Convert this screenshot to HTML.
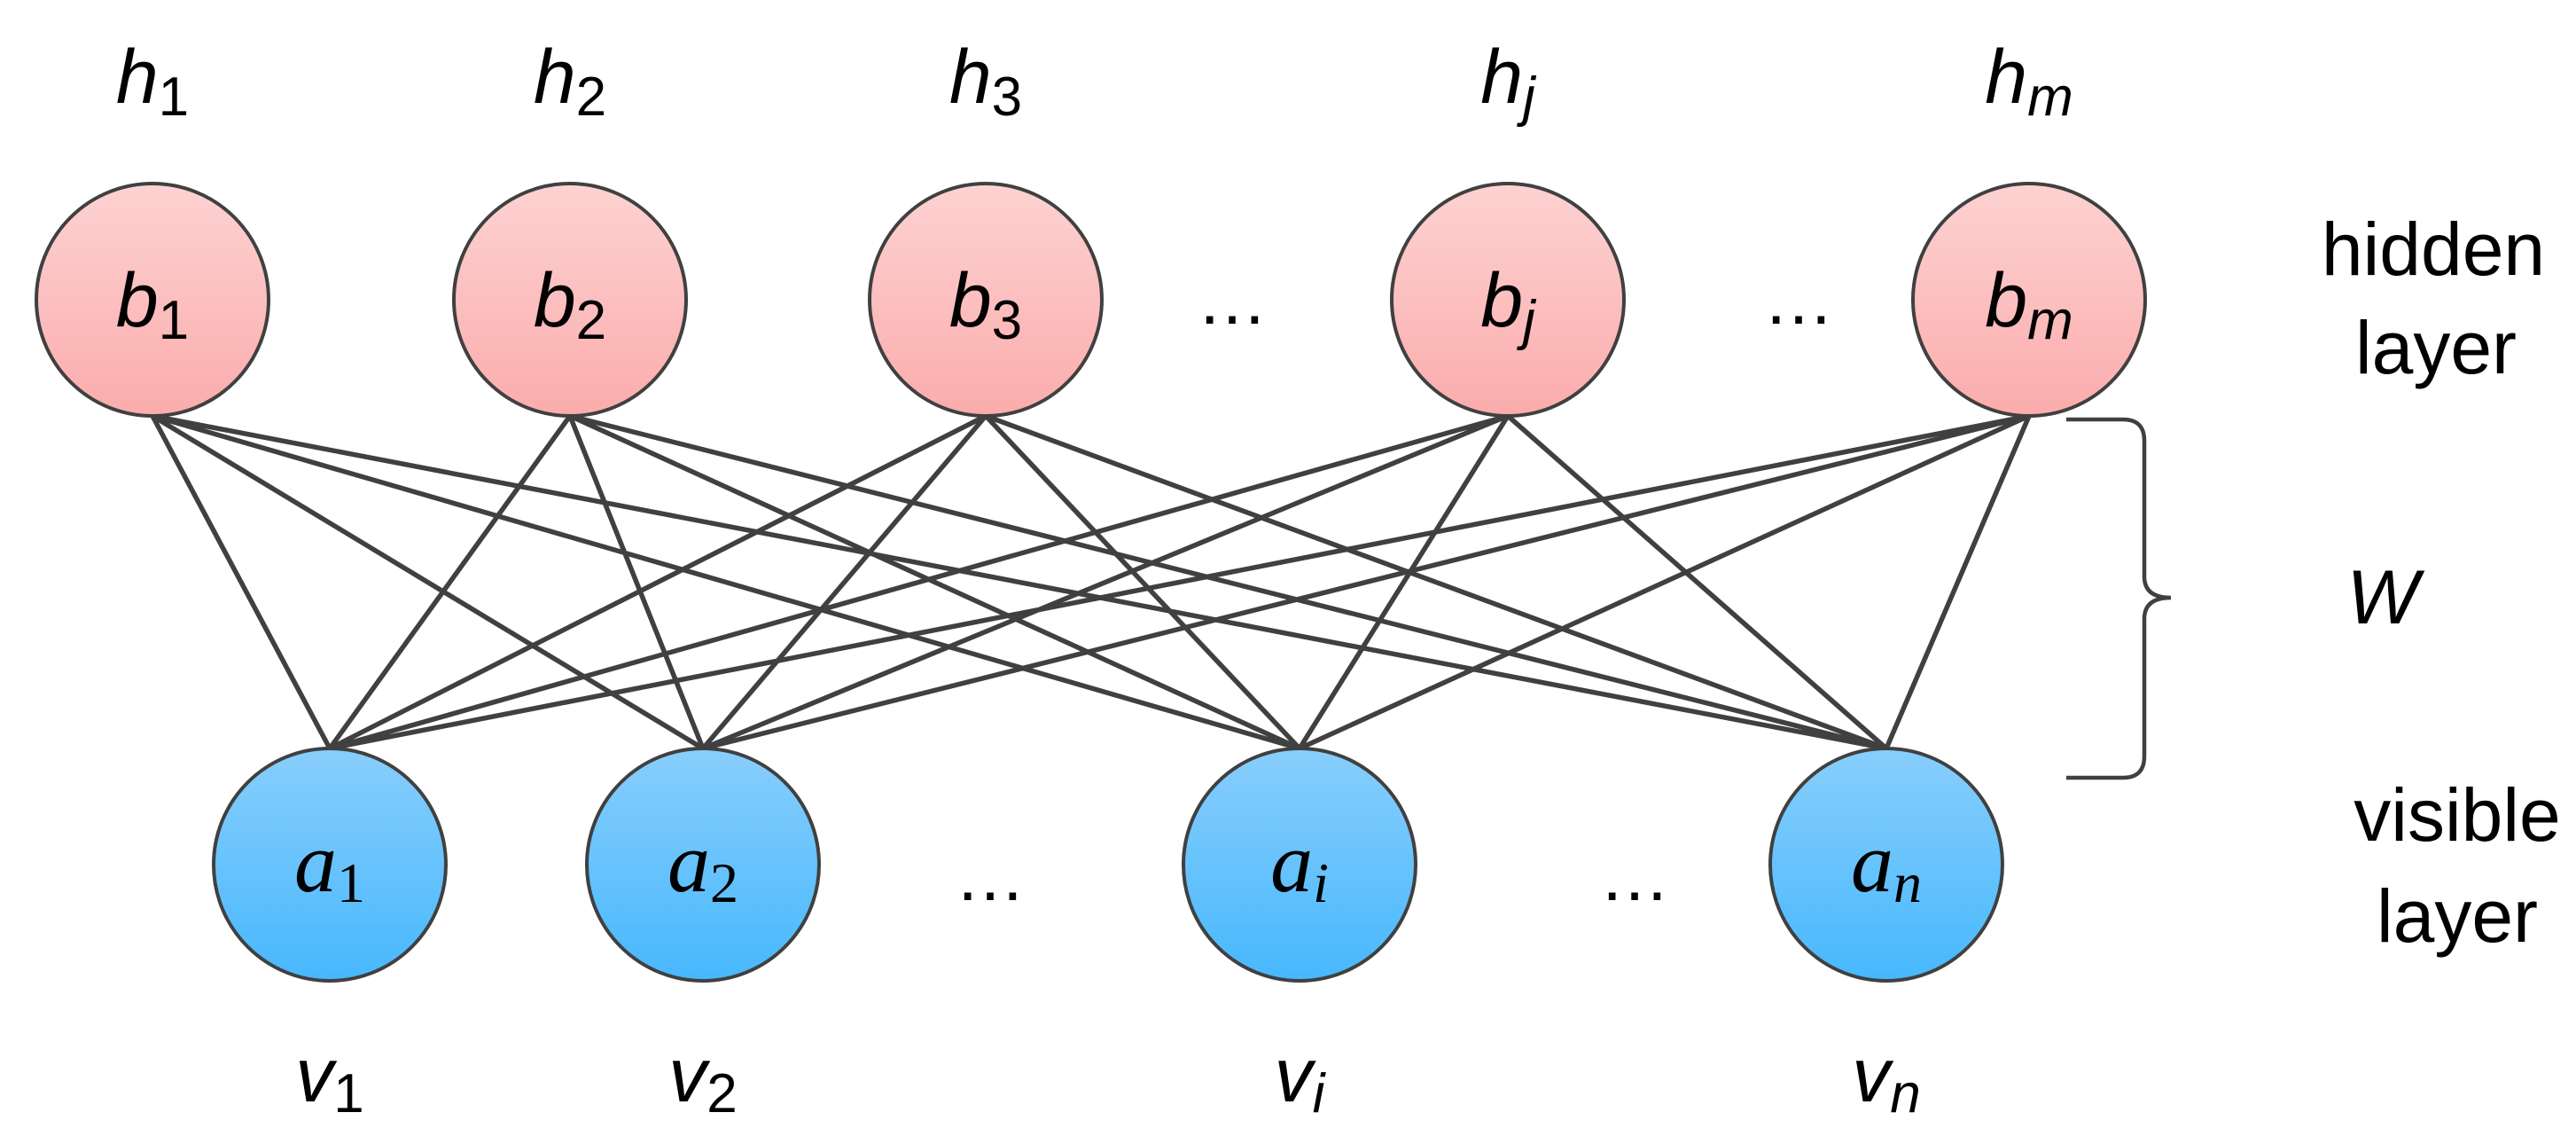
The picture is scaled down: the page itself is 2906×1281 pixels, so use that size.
<!DOCTYPE html>
<html><head><meta charset="utf-8"><style>html,body{margin:0;padding:0;background:#fff}svg{display:block}</style></head>
<body>
<svg width="2906" height="1281" viewBox="0 0 2906 1281" xmlns="http://www.w3.org/2000/svg">
<defs>
<linearGradient id="pk" x1="0" y1="0" x2="0" y2="1"><stop offset="0" stop-color="#fdd2d2"/><stop offset="1" stop-color="#fbacac"/></linearGradient>
<linearGradient id="bl" x1="0" y1="0" x2="0" y2="1"><stop offset="0" stop-color="#88cefc"/><stop offset="1" stop-color="#47b8fd"/></linearGradient>
</defs>
<g stroke="#404040" stroke-width="5.5" fill="none">
<path d="M172 469L372 844M172 469L793 844M172 469L1466 844M172 469L2128 844
M643 469L372 844M643 469L793 844M643 469L1466 844M643 469L2128 844
M1112 469L372 844M1112 469L793 844M1112 469L1466 844M1112 469L2128 844
M1701 469L372 844M1701 469L793 844M1701 469L1466 844M1701 469L2128 844
M2289 469L372 844M2289 469L793 844M2289 469L1466 844M2289 469L2128 844"/>
<path d="M2331 473H2395Q2419 473 2419 497V650Q2419 674 2449 674Q2419 674 2419 698V853Q2419 877 2395 877H2331" stroke-width="4.5"/>
</g>
<g stroke="#404040" stroke-width="4" fill="url(#pk)">
<circle cx="172" cy="338" r="131"/><circle cx="643" cy="338" r="131"/><circle cx="1112" cy="338" r="131"/><circle cx="1701" cy="338" r="131"/><circle cx="2289" cy="338" r="131"/>
</g>
<g stroke="#404040" stroke-width="4" fill="url(#bl)">
<circle cx="372" cy="975" r="131"/><circle cx="793" cy="975" r="131"/><circle cx="1466" cy="975" r="131"/><circle cx="2128" cy="975" r="131"/>
</g>
<g font-family="Liberation Sans, sans-serif" font-style="italic" font-size="86" fill="#000" text-anchor="middle">
<text x="172" y="116">h<tspan font-size="62" font-style="normal" dy="14">1</tspan></text>
<text x="643" y="116">h<tspan font-size="62" font-style="normal" dy="14">2</tspan></text>
<text x="1112" y="116">h<tspan font-size="62" font-style="normal" dy="14">3</tspan></text>
<text x="1701" y="116">h<tspan font-size="62" dy="14">j</tspan></text>
<text x="2289" y="116">h<tspan font-size="62" dy="14">m</tspan></text>
<text x="172" y="368">b<tspan font-size="62" font-style="normal" dy="14">1</tspan></text>
<text x="643" y="368">b<tspan font-size="62" font-style="normal" dy="14">2</tspan></text>
<text x="1112" y="368">b<tspan font-size="62" font-style="normal" dy="14">3</tspan></text>
<text x="1701" y="368">b<tspan font-size="62" dy="14">j</tspan></text>
<text x="2289" y="368">b<tspan font-size="62" dy="14">m</tspan></text>
<text x="372" y="1242">v<tspan font-size="62" font-style="normal" dy="12">1</tspan></text>
<text x="793" y="1242">v<tspan font-size="62" font-style="normal" dy="12">2</tspan></text>
<text x="1466" y="1242">v<tspan font-size="62" dy="12">i</tspan></text>
<text x="2128" y="1242">v<tspan font-size="62" dy="12">n</tspan></text>
<text x="2688" y="703">W</text>
</g>
<g font-family="Liberation Serif, serif" font-style="italic" font-size="96" fill="#000" text-anchor="middle">
<text x="372" y="1005">a<tspan font-size="64" font-style="normal" dy="12">1</tspan></text>
<text x="793" y="1005">a<tspan font-size="64" font-style="normal" dy="12">2</tspan></text>
<text x="1466" y="1005">a<tspan font-size="64" dy="12">i</tspan></text>
<text x="2128" y="1005">a<tspan font-size="64" dy="12">n</tspan></text>
</g>
<g font-family="Liberation Sans, sans-serif" font-size="80" fill="#000" text-anchor="middle">
<text x="1390" y="365">…</text><text x="2029" y="365">…</text>
<text x="1117" y="1015">…</text><text x="1844" y="1015">…</text>
</g>
<g font-family="Liberation Sans, sans-serif" font-size="84" fill="#000" text-anchor="middle">
<text x="2745" y="310">hidden</text><text x="2748" y="421">layer</text>
<text x="2772" y="948">visible</text><text x="2772" y="1062">layer</text>
</g>
</svg>
</body></html>
